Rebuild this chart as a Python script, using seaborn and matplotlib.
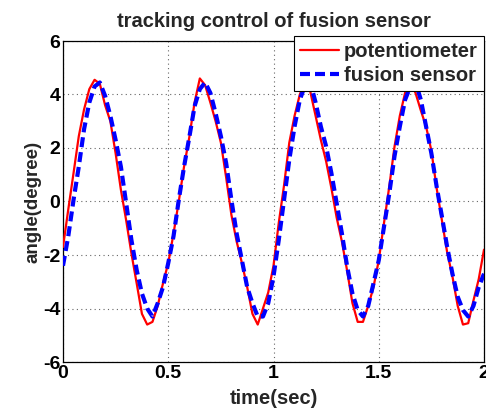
import matplotlib
matplotlib.use("Agg")
import matplotlib.pyplot as plt
from matplotlib.lines import Line2D
from matplotlib.font_manager import FontProperties
import seaborn as sns
import pandas as pd

time = [i * 0.025 for i in range(81)]

potentiometer = [
    -1.7, -0.3, 1.06, 2.44, 3.44, 4.2, 4.55, 4.4, 3.6, 3.0,
    1.8, 0.44, -0.7, -1.94, -3.06, -4.2, -4.6, -4.5, -3.9, -3.06,
    -2.3, -1.2, 0.0, 1.3, 2.4, 3.7, 4.6, 4.35, 3.7, 3.0,
    2.2, 0.9, -0.5, -1.5, -2.3, -3.2, -4.2, -4.6, -4.0, -3.4,
    -2.4, -0.8, 0.6, 2.2, 3.2, 4.0, 4.5, 4.1, 3.2, 2.3,
    1.5, 0.5, -0.6, -1.5, -2.6, -3.8, -4.5, -4.5, -3.9, -3.2,
    -2.2, -0.8, 0.56, 2.06, 3.2, 4.06, 4.5, 4.05, 3.4, 2.8,
    1.9, 0.5, -0.7, -1.9, -2.8, -3.9, -4.6, -4.55, -3.7, -2.9,
    -1.8,
]

fusion_sensor = [
    -2.4, -1.3, 0.06, 1.3, 2.7, 3.7, 4.3, 4.45, 3.95, 3.2,
    2.3, 1.3, -0.06, -1.44, -2.56, -3.44, -4.0, -4.3, -3.8, -3.2,
    -2.3, -1.3, 0.06, 1.3, 2.4, 3.56, 4.2, 4.45, 4.06, 3.3,
    2.44, 1.44, 0.06, -1.2, -2.2, -3.2, -3.8, -4.3, -4.3, -3.8,
    -2.8, -1.44, 0.06, 1.56, 2.8, 3.8, 4.35, 4.45, 3.7, 2.8,
    2.06, 1.06, -0.06, -1.2, -2.44, -3.44, -4.06, -4.3, -3.9, -3.06,
    -2.2, -0.94, 0.3, 1.7, 2.8, 3.8, 4.3, 4.45, 3.8, 2.8,
    1.8, 0.56, -0.56, -1.7, -2.7, -3.56, -4.06, -4.3, -3.9, -3.2,
    -2.7,
]

series_names = ["potentiometer", "fusion sensor"]
x_ticks = [0, 0.5, 1, 1.5, 2]
x_tick_labels = ["0", "0.5", "1", "1.5", "2"]
y_ticks = [-6, -4, -2, 0, 2, 4, 6]

df = pd.DataFrame({
    "time": time * 2,
    "angle": potentiometer + fusion_sensor,
    "series": [series_names[0]] * len(time) + [series_names[1]] * len(time),
})

sns.set_style("white")
plt.rcParams["font.family"] = ["Liberation Sans", "DejaVu Sans"]
plt.rcParams["font.weight"] = "bold"
plt.rcParams["axes.unicode_minus"] = False

RED_LW = 1.6
BLUE_LW = 3.0
BLUE_DASH = (2.4, 1.2)

fig = plt.figure(figsize=(4.86, 4.11), dpi=100)
ax = fig.add_axes([63 / 486, 1 - 362 / 411, (484 - 63) / 486, (362 - 41) / 411])

sns.lineplot(data=df, x="time", y="angle", hue="series", style="series",
             palette={series_names[0]: "#ff0000", series_names[1]: "#0000ff"},
             dashes={series_names[0]: "", series_names[1]: BLUE_DASH},
             ax=ax, legend=False, sort=False, estimator=None)
lines = ax.get_lines()
lines[0].set_linewidth(RED_LW)
lines[1].set_linewidth(BLUE_LW)
lines[0].set_zorder(3)
lines[1].set_zorder(4)

ax.set_xlim(0, 2)
ax.set_ylim(-6, 6)
ax.set_xticks(x_ticks)
ax.set_xticklabels(x_tick_labels)
ax.set_yticks(y_ticks)
ax.tick_params(direction="in", length=4, width=0.8, labelsize=14, pad=2, colors="black")
for lab in ax.get_xticklabels() + ax.get_yticklabels():
    lab.set_fontweight("bold")
ax.grid(True, linestyle=(0, (1, 3)), color="#666666", linewidth=0.8)
for s in ax.spines.values():
    s.set_visible(True)
    s.set_color("black")
    s.set_linewidth(0.9)

ax.set_xlabel("time(sec)", fontsize=14.5, fontweight="bold", labelpad=5)
ax.set_ylabel("angle(degree)", fontsize=13.5, fontweight="bold", labelpad=1)
ax.set_title("tracking control of fusion sensor", fontsize=14.5, fontweight="bold", pad=10)

handles = [Line2D([], [], color="#ff0000", lw=RED_LW),
           Line2D([], [], color="#0000ff", lw=BLUE_LW, linestyle=(0, BLUE_DASH))]
leg_font = FontProperties(family="Liberation Sans", weight="bold", size=14.5)
leg = ax.legend(handles, series_names, loc="upper right", bbox_to_anchor=(1.0, 1.0156),
                prop=leg_font, frameon=True, fancybox=False,
                edgecolor="black", framealpha=1, borderpad=0.3, labelspacing=0.25,
                handlelength=1.95, handletextpad=0.25, borderaxespad=0)
leg.get_frame().set_linewidth(0.8)
leg.set_zorder(10)

fig.savefig("out.png", dpi=100)
